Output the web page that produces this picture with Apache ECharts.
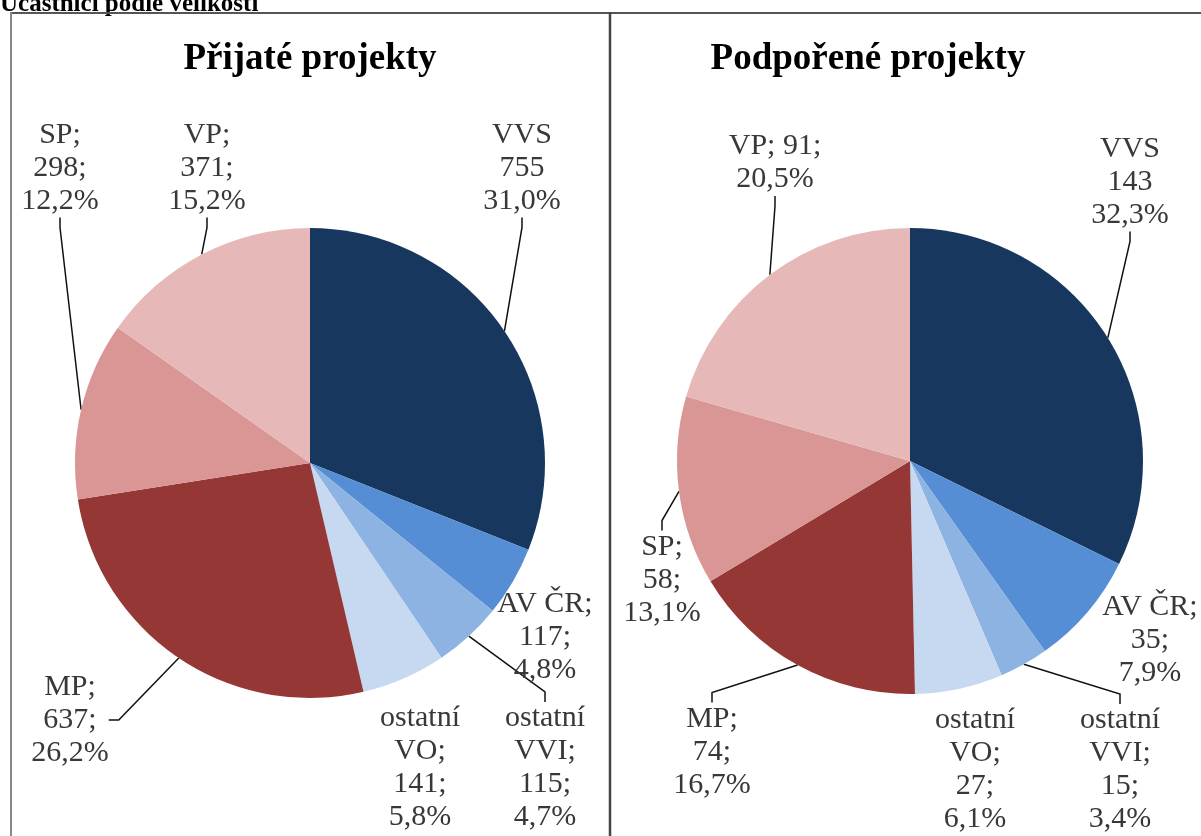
<!DOCTYPE html>
<html>
<head>
<meta charset="utf-8">
<script src="https://cdn.jsdelivr.net/npm/echarts@6/dist/echarts.min.js"></script>
<style>
  html, body { margin: 0; padding: 0; background: #fff; }
  #ucastnici { width: 1201px; height: 836px; }
</style>
</head>
<body>
<div id="ucastnici"></div>
<script>
// kategorie účastníků (po směru hodin od 12:00)
const categories = ['VVS', 'AV ČR', 'ostatní\nVVI', 'ostatní\nVO', 'MP', 'SP', 'VP'];
const prijate = [755, 117, 115, 141, 637, 298, 371];
const podporene = [143, 35, 15, 27, 74, 58, 91];
const titles = ['Přijaté projekty', 'Podpořené projekty'];

const colors = ['#17375E', '#558ED5', '#8DB3E2', '#C6D9F1', '#953735', '#D99694', '#E6B9B8'];

// pozice popisků [x, y] pro každou výseč
const leftLabelPos = [[522, 168], [545, 637], [545, 768], [420, 768], [70, 720], [60, 168], [207, 168]];
const rightLabelPos = [[1130, 182], [1150, 640], [1120, 770], [975, 770], [712, 752], [662, 580], [775, 163]];
// popisky hned u výseče - bez vodicí čáry
const noLine = [1, 3];

function fmtPct(v, total) {
  return (v / total * 100).toFixed(1).replace('.', ',') + '%';
}

function makeSeries(values, center, radius, labelPos, isRight) {
  const total = values.reduce((a, b) => a + b, 0);
  return {
    type: 'pie',
    center: center,
    radius: radius,
    startAngle: 90,
    clockwise: true,
    silent: true,
    animation: false,
    data: values.map((v, i) => ({
      name: categories[i],
      value: v,
      itemStyle: { color: colors[i] },
      labelLine: { show: noLine.indexOf(i) < 0 }
    })),
    label: {
      show: true,
      position: 'outside',
      overflow: 'none',
      fontFamily: 'Liberation Serif',
      fontSize: 30,
      lineHeight: 33,
      color: '#383838',
      align: 'center',
      formatter: function (p) {
        const pct = fmtPct(p.value, total);
        if (p.dataIndex === 0) return p.name + '\n' + p.value + '\n' + pct;
        if (isRight && p.dataIndex === 6) return p.name + '; ' + p.value + ';\n' + pct;
        return p.name + ';\n' + p.value + ';\n' + pct;
      }
    },
    labelLine: {
      show: true,
      length: 10,
      length2: 10,
      lineStyle: { color: '#111', width: 1.5 }
    },
    labelLayout: function (params) {
      const pos = labelPos[params.dataIndex];
      return {
        x: pos[0],
        y: pos[1],
        align: 'center',
        verticalAlign: 'middle'
      };
    }
  };
}

var myChart = echarts.init(document.getElementById('ucastnici'), null, { renderer: 'canvas' });

var option = {
  backgroundColor: '#fff',
  graphic: [
    // nadpis stránky (oříznutý nahoře)
    {
      type: 'text', left: 0, top: -8,
      style: { text: 'Účastníci podle velikosti', font: 'bold 25px "Liberation Serif"', fill: '#000' }
    },
    // rámeček
    { type: 'line', shape: { x1: 10, y1: 13, x2: 1201, y2: 13 }, style: { stroke: '#555', lineWidth: 2 } },
    { type: 'line', shape: { x1: 11, y1: 12, x2: 11, y2: 836 }, style: { stroke: '#888', lineWidth: 2 } },
    { type: 'line', shape: { x1: 610, y1: 12, x2: 610, y2: 836 }, style: { stroke: '#444', lineWidth: 2.5 } },
    // nadpisy grafů
    {
      type: 'text', x: 310, y: 59,
      style: { text: titles[0], font: 'bold 37px "Liberation Serif"', fill: '#000', align: 'center', verticalAlign: 'middle' }
    },
    {
      type: 'text', x: 868, y: 59,
      style: { text: titles[1], font: 'bold 37px "Liberation Serif"', fill: '#000', align: 'center', verticalAlign: 'middle' }
    }
  ],
  series: [
    makeSeries(prijate, [310, 463], 235, leftLabelPos, false),
    makeSeries(podporene, [910, 461], 233, rightLabelPos, true)
  ]
};

option && myChart.setOption(option);
</script>
</body>
</html>
